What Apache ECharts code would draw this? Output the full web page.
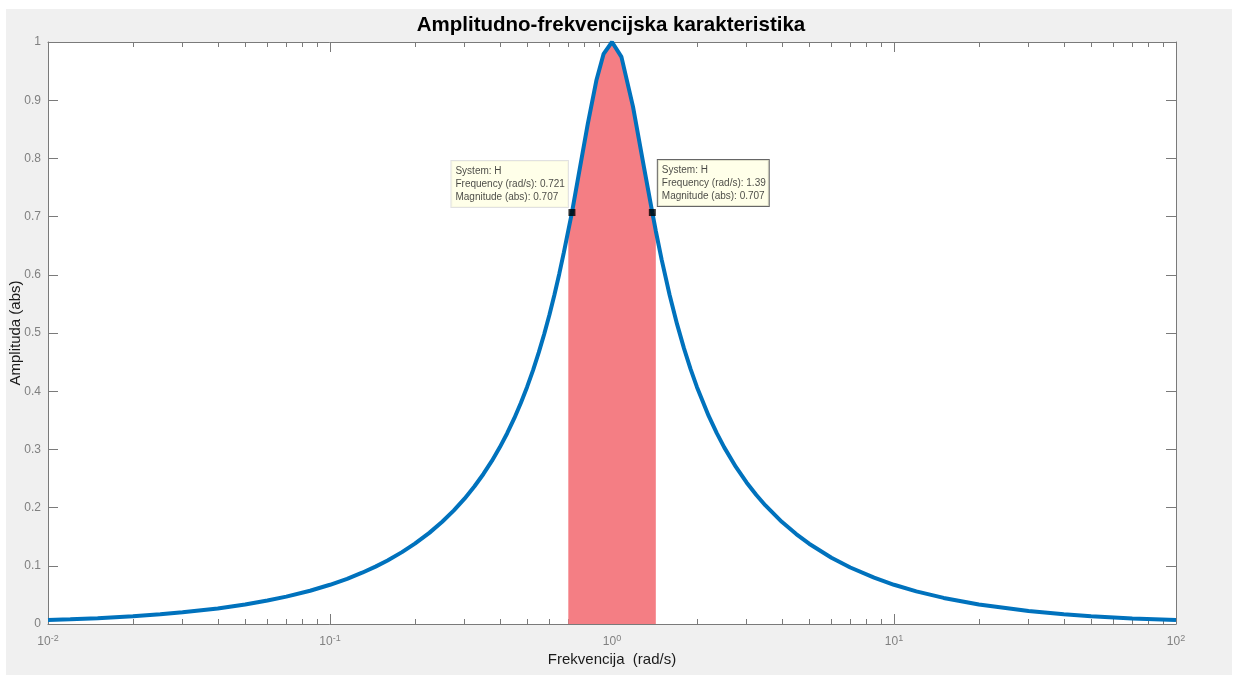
<!DOCTYPE html>
<html>
<head>
<meta charset="utf-8">
<script src="https://cdn.jsdelivr.net/npm/echarts@6/dist/echarts.min.js"></script>
<style>
html,body{margin:0;padding:0;background:#fff;}
#chart{width:1238px;height:676px;}
</style>
</head>
<body>
<div id="chart"></div>
<script>
// ---- data ----
const titleText = 'Amplitudno-frekvencijska karakteristika';
const xName = 'Frekvencija  (rad/s)';
const yName = 'Amplituda (abs)';

const freq = [0.01, 0.012, 0.015, 0.02, 0.025, 0.03, 0.04, 0.05, 0.06, 0.07, 0.085, 0.1, 0.115, 0.13, 0.145, 0.16, 0.18, 0.2, 0.225, 0.25, 0.275, 0.3, 0.325, 0.35, 0.375, 0.4, 0.425, 0.45, 0.475, 0.5, 0.525, 0.55, 0.575, 0.6, 0.625, 0.65, 0.675, 0.7, 0.721, 0.76, 0.82, 0.88, 0.934, 1.0, 1.08, 1.187, 1.3, 1.39, 1.43, 1.5, 1.6, 1.7, 1.8, 1.9, 2, 2.2, 2.35, 2.5, 2.75, 3, 3.25, 3.5, 4, 4.5, 5, 6, 7, 8.5, 10, 12, 15, 20, 30, 40, 50, 70, 100];
const mag = [0.0067, 0.0080, 0.0100, 0.0134, 0.0167, 0.0201, 0.0268, 0.0335, 0.0403, 0.0470, 0.0572, 0.0674, 0.0777, 0.0881, 0.0986, 0.1092, 0.1235, 0.1380, 0.1566, 0.1756, 0.1952, 0.2154, 0.2362, 0.2578, 0.2802, 0.3035, 0.3278, 0.3532, 0.3797, 0.4073, 0.4362, 0.4666, 0.4983, 0.5314, 0.5658, 0.6015, 0.6384, 0.6764, 0.707, 0.7692, 0.8586, 0.9338, 0.9797, 1.0, 0.9745, 0.8890, 0.7834, 0.707, 0.6753, 0.6260, 0.5658, 0.5156, 0.4735, 0.4378, 0.4073, 0.3579, 0.3283, 0.3035, 0.2699, 0.2433, 0.2217, 0.2037, 0.1756, 0.1545, 0.1380, 0.1139, 0.0971, 0.0796, 0.0674, 0.0561, 0.0448, 0.0335, 0.0223, 0.0167, 0.0134, 0.0096, 0.0067];

const bandLow = 0.7;
const bandHigh = 1.43;

const tipFreq = ['0.721', '1.39'];
const tipMag = ['0.707', '0.707'];
const tipSystem = ['H', 'H'];

const xMajorTicks = [0.01, 0.1, 1, 10, 100];
const xMinorTicks = [];
[0.01, 0.1, 1, 10].forEach(d => { for (let k = 2; k <= 9; k++) xMinorTicks.push(+(d * k).toPrecision(3)); });
const xTickExp = ['-2', '-1', '0', '1', '2'];

const yMin = 0, yMax = 1, yStep = 0.1;

// ---- chart ----
const chart = echarts.init(document.getElementById('chart'));
const FONT = '"Liberation Sans", Arial, sans-serif';
const GREY = '#808080';
const AXC = '#7a7a7a';

const curve = freq.map((f, i) => [f, mag[i]]);
const fillPts = curve.filter(p => p[0] >= bandLow && p[0] <= bandHigh);

const tipStyles = [
  { position: [-117, -2], borderColor: '#d9d9d9' },
  { position: [9, -3], borderColor: '#404040' }
];
const tipData = tipFreq.map((f, i) => ({
  value: [parseFloat(f), parseFloat(tipMag[i])],
  label: {
    show: true,
    position: tipStyles[i].position,
    align: 'left',
    verticalAlign: 'bottom',
    formatter: 'System: ' + tipSystem[i] + '\nFrequency (rad/s): ' + f + '\nMagnitude (abs): ' + tipMag[i],
    backgroundColor: '#ffffe4',
    borderColor: tipStyles[i].borderColor,
    borderWidth: 1,
    padding: [4, 3, 3, 4],
    fontSize: 10,
    lineHeight: 13,
    color: '#1a1a1a',
    fontFamily: FONT
  }
}));

function logAxis(pos, major, withLabels) {
  return {
    type: 'log', logBase: 10, min: 0.01, max: 100, position: pos,
    axisLine: { show: major, lineStyle: { color: AXC, width: 1 } },
    axisTick: { show: true, inside: true, length: major ? 10 : 5,
      customValues: major ? xMajorTicks : xMinorTicks,
      lineStyle: { color: AXC, width: 1 } },
    axisLabel: withLabels ? {
      show: true, customValues: xMajorTicks, margin: 10,
      formatter: (v) => {
        const i = xMajorTicks.findIndex(t => Math.abs(t - v) / t < 1e-6);
        return '{b|10}{s|' + (i >= 0 ? xTickExp[i] : '') + '}';
      },
      rich: {
        b: { fontSize: 12, color: GREY, fontFamily: FONT },
        s: { fontSize: 9, color: GREY, fontFamily: FONT, verticalAlign: 'bottom', padding: [0, 0, 7, 0] }
      }
    } : { show: false },
    splitLine: { show: false },
    name: withLabels ? xName : '',
    nameLocation: 'middle', nameGap: 28, nameMoveOverlap: false,
    nameTextStyle: { fontSize: 15, color: '#1a1a1a', fontFamily: FONT }
  };
}

function linAxis(pos, withLabels) {
  return {
    type: 'value', min: yMin, max: yMax, interval: yStep, position: pos,
    axisLine: { show: true, lineStyle: { color: AXC, width: 1 } },
    axisTick: { show: true, inside: true, length: 10, lineStyle: { color: AXC } },
    axisLabel: withLabels ? { show: true, fontSize: 12, color: GREY, fontFamily: FONT, margin: 7,
      formatter: v => String(+v.toFixed(1)) } : { show: false },
    splitLine: { show: false },
    name: withLabels ? yName : '',
    nameLocation: 'middle', nameGap: 25, nameRotate: 90, nameMoveOverlap: false,
    nameTextStyle: { fontSize: 15, color: '#1a1a1a', fontFamily: FONT }
  };
}

chart.setOption({
  animation: false,
  backgroundColor: '#ffffff',
  title: {
    text: titleText, left: 606, top: 10, textAlign: 'center',
    textStyle: { fontSize: 20.5, fontWeight: 'bold', color: '#000', fontFamily: FONT }
  },
  graphic: [{
    type: 'rect', z: -100, silent: true,
    shape: { x: 6, y: 9, width: 1226, height: 666 },
    style: { fill: '#f0f0f0' }
  }],
  grid: { left: 48, top: 42, width: 1128, height: 582, show: true, backgroundColor: '#ffffff', borderWidth: 0,
    outerBoundsMode: 'none', containLabel: false },
  xAxis: [
    logAxis('bottom', true, true),
    logAxis('bottom', false, false),
    logAxis('top', true, false),
    logAxis('top', false, false)
  ],
  yAxis: [linAxis('left', true), linAxis('right', false)],
  series: [
    { type: 'line', data: fillPts, symbol: 'none', lineStyle: { width: 0 },
      areaStyle: { color: '#f47e84', opacity: 1 }, z: 1, silent: true },
    { type: 'line', data: curve, symbol: 'none', lineStyle: { color: '#0072bd', width: 4 },
      itemStyle: { color: '#0072bd' }, z: 2 },
    { type: 'scatter', data: tipData, symbol: 'rect', symbolSize: 7,
      itemStyle: { color: '#000' }, z: 5 }
  ]
});
</script>
</body>
</html>
